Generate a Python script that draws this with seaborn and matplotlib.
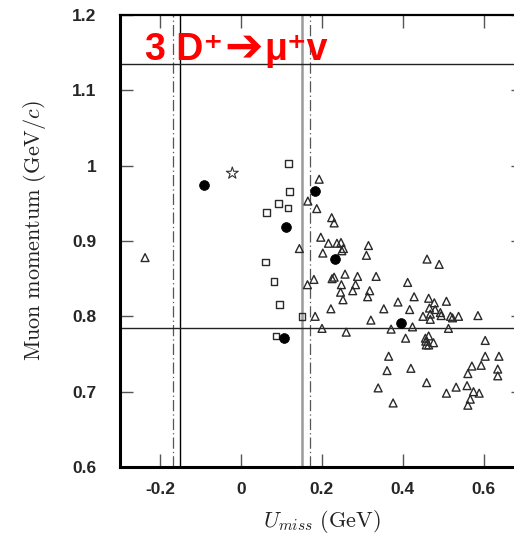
import matplotlib
matplotlib.use("Agg")
import matplotlib.pyplot as plt
import seaborn as sns
import pandas as pd

# ---- data ----
tri_u = [-0.238, 0.193, 0.165, 0.187, 0.224, 0.230, 0.144, 0.197, 0.216, 0.202,
         0.237, 0.247, 0.249, 0.253, 0.315, 0.310, 0.257, 0.230, 0.225, 0.288,
         0.334, 0.248, 0.283, 0.276, 0.246, 0.318, 0.313, 0.252, 0.180, 0.164,
         0.222, 0.353, 0.388, 0.183, 0.321, 0.200, 0.260, 0.371, 0.412, 0.460,
         0.490, 0.428, 0.464, 0.478, 0.508, 0.417, 0.466, 0.480, 0.493, 0.495,
         0.450, 0.468, 0.468, 0.518, 0.523, 0.538, 0.586, 0.424, 0.513, 0.407,
         0.456, 0.464, 0.458, 0.464, 0.476, 0.457, 0.604, 0.365, 0.361, 0.420,
         0.459, 0.339, 0.376, 0.508, 0.532, 0.559, 0.575, 0.589, 0.567, 0.561,
         0.561, 0.571, 0.594, 0.604, 0.638, 0.635, 0.635]
tri_p = [0.878, 0.982, 0.953, 0.943, 0.931, 0.924, 0.890, 0.905, 0.897, 0.884,
         0.897, 0.898, 0.887, 0.890, 0.894, 0.881, 0.856, 0.852, 0.850, 0.853,
         0.853, 0.842, 0.842, 0.834, 0.832, 0.834, 0.826, 0.822, 0.849, 0.842,
         0.810, 0.810, 0.819, 0.800, 0.795, 0.784, 0.779, 0.783, 0.845, 0.876,
         0.869, 0.826, 0.824, 0.818, 0.820, 0.809, 0.811, 0.809, 0.805, 0.801,
         0.800, 0.803, 0.796, 0.800, 0.798, 0.800, 0.801, 0.786, 0.784, 0.771,
         0.771, 0.774, 0.762, 0.762, 0.765, 0.767, 0.768, 0.747, 0.728, 0.731,
         0.712, 0.705, 0.685, 0.698, 0.706, 0.708, 0.700, 0.698, 0.690, 0.682,
         0.724, 0.734, 0.735, 0.747, 0.747, 0.730, 0.721]
sq_u = [0.117, 0.119, 0.092, 0.116, 0.062, 0.060, 0.081, 0.095, 0.150, 0.086]
sq_p = [1.003, 0.966, 0.950, 0.944, 0.938, 0.872, 0.846, 0.816, 0.800, 0.774]
dot_u = [-0.091, 0.110, 0.182, 0.231, 0.107, 0.396]
dot_p = [0.975, 0.918, 0.966, 0.876, 0.771, 0.791]
star_u = [-0.022]
star_p = [0.990]

cut_u_solid = [-0.151]
cut_u_grey = [0.150]
cut_u_dashdot = [-0.170, 0.171]
cut_p = [1.1345, 0.784]

x_ticks = [-0.2, 0.0, 0.2, 0.4, 0.6]
x_tick_labels = ["-0.2", "0", "0.2", "0.4", "0.6"]
y_ticks = [0.6, 0.7, 0.8, 0.9, 1.0, 1.1, 1.2]
y_tick_labels = ["0.6", "0.7", "0.8", "0.9", "1", "1.1", "1.2"]
title_parts = ["3 D\u207a", "\u2794", "\u03bc\u207av"]
title_sizes = [27, 33, 27]

# ---- style ----
sns.set_style("ticks")
plt.rcParams["font.family"] = ["Liberation Sans", "DejaVu Sans"]
plt.rcParams["mathtext.fontset"] = "cm"

fig = plt.figure(figsize=(5.14, 5.34), dpi=100)
ax = fig.add_axes([120 / 514, 67 / 534, 404 / 514, 452 / 534])

# cut lines
for u in cut_u_dashdot:
    ax.axvline(u, color="#555555", lw=0.9, ls=(0, (9, 2.5, 1, 2.5)), zorder=1)
for u in cut_u_solid:
    ax.axvline(u, color="black", lw=1.0, zorder=1)
for u in cut_u_grey:
    ax.axvline(u, color="#9a9a9a", lw=1.8, zorder=1)
for p in cut_p:
    ax.axhline(p, color="#222222", lw=1.0, zorder=1)

tri_df = pd.DataFrame({"u": tri_u, "p": tri_p})
sq_df = pd.DataFrame({"u": sq_u, "p": sq_p})
dot_df = pd.DataFrame({"u": dot_u, "p": dot_p})
star_df = pd.DataFrame({"u": star_u, "p": star_p})

sns.scatterplot(data=tri_df, x="u", y="p", marker="^", s=32, color="#333333",
                edgecolor="#2a2a2a", linewidth=1.0, ax=ax, zorder=3)
ax.collections[-1].set_facecolor("none")
sns.scatterplot(data=sq_df, x="u", y="p", marker="s", s=22, color="#333333",
                edgecolor="#2a2a2a", linewidth=1.0, ax=ax, zorder=3)
ax.collections[-1].set_facecolor("none")
sns.scatterplot(data=star_df, x="u", y="p", marker="*", s=80, color="#333333",
                edgecolor="#333333", linewidth=0.8, ax=ax, zorder=3)
ax.collections[-1].set_facecolor("none")
sns.scatterplot(data=dot_df, x="u", y="p", marker="o", s=50, color="black",
                edgecolor="black", linewidth=0.5, ax=ax, zorder=4)

ax.set_xlim(-0.3, 0.7)
ax.set_ylim(0.6, 1.2)
ax.set_xticks(x_ticks)
ax.set_xticklabels(x_tick_labels, fontweight="bold", fontsize=12.5)
ax.set_yticks(y_ticks)
ax.set_yticklabels(y_tick_labels, fontweight="bold", fontsize=12.5)
ax.tick_params(axis="both", direction="in", length=9.5, width=1.0,
               color="#555555", top=True, right=True)
ax.tick_params(axis="x", pad=11)
ax.tick_params(axis="y", pad=17)

for side in ["left", "bottom"]:
    ax.spines[side].set_linewidth(2.2)
    ax.spines[side].set_color("black")
ax.spines["top"].set_linewidth(1.6)
ax.spines["top"].set_color("black")

ax.set_xlabel(r"$U_{miss}\ \mathrm{(GeV)}$", fontsize=16, color="#222222")
ax.set_ylabel(r"$\mathrm{Muon\ momentum\ (GeV/}c\mathrm{)}$", fontsize=16,
              color="#222222")
ax.xaxis.set_label_coords(0.5, -0.09)
ax.yaxis.set_label_coords(-0.178, 0.524)

# red title, drawn piece by piece
fig.canvas.draw()
renderer = fig.canvas.get_renderer()
x0 = 145 / 514
base_y = 1 - 60 / 534
for part, size in zip(title_parts, title_sizes):
    t = fig.text(x0, base_y, part, color="#ff0000", fontsize=size,
                 fontweight="bold", ha="left", va="baseline",
                 family=["Liberation Sans", "DejaVu Sans"])
    bb = t.get_window_extent(renderer)
    x0 += bb.width / fig.bbox.width + (1.5 / 514)

fig.savefig("out.png", dpi=100)
